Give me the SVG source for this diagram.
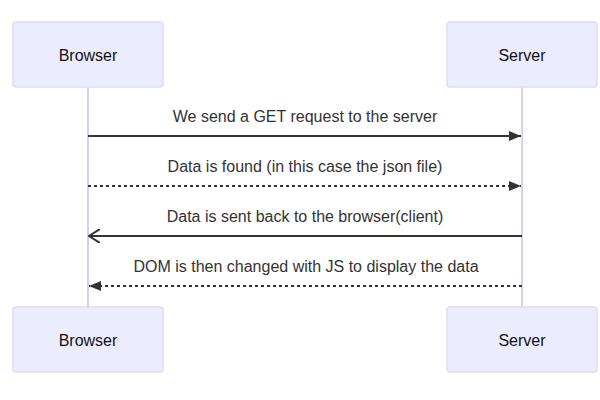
<svg xmlns="http://www.w3.org/2000/svg" width="600" height="400" viewBox="0 0 600 400">
<defs>
<style>
.actor{fill:#ECECFF;stroke:#E2D9F8;stroke-width:1.5}
.lbl{font-family:"Liberation Sans",Arial,sans-serif;font-size:16px;fill:#111;text-anchor:middle}
.life{stroke:#D8CFF5;stroke-width:2}
.msg{stroke:#333;stroke-width:2;fill:none}
.dot{stroke-dasharray:3,3}
.mt{font-family:"Liberation Sans",Arial,sans-serif;font-size:16px;fill:#333;text-anchor:middle}
</style>
<marker id="arrow" viewBox="0 0 12 10" refX="12" refY="5" markerWidth="12" markerHeight="10" markerUnits="userSpaceOnUse" orient="auto">
<path d="M0,0 L12,5 L0,10 z" fill="#333"/>
</marker>
<marker id="open" viewBox="0 0 12 14" refX="11" refY="7" markerWidth="12" markerHeight="14" markerUnits="userSpaceOnUse" orient="auto">
<path d="M0,0 L11,7 L0,14" fill="none" stroke="#333" stroke-width="2"/>
</marker>
</defs>
<rect width="600" height="400" fill="#fff"/>
<g id="lifelines">
<line class="life" x1="88" y1="87" x2="88" y2="307"/>
<line class="life" x1="522" y1="87" x2="522" y2="307"/>
</g>
<g id="browser-top">
<rect class="actor" x="13" y="22" width="150" height="65" rx="3"/>
<text class="lbl" x="88" y="61">Browser</text>
</g>
<g id="server-top">
<rect class="actor" x="447" y="22" width="150" height="65" rx="3"/>
<text class="lbl" x="522" y="61">Server</text>
</g>
<g id="browser-bottom">
<rect class="actor" x="13" y="307" width="150" height="65" rx="3"/>
<text class="lbl" x="88" y="346">Browser</text>
</g>
<g id="server-bottom">
<rect class="actor" x="447" y="307" width="150" height="65" rx="3"/>
<text class="lbl" x="522" y="346">Server</text>
</g>
<g id="connectors">
<line class="msg" x1="88" y1="136" x2="521" y2="136" marker-end="url(#arrow)"/>
<line class="msg dot" x1="88" y1="186" x2="521" y2="186" marker-end="url(#arrow)"/>
<line class="msg" x1="522" y1="236" x2="89" y2="236" marker-end="url(#open)"/>
<line class="msg dot" x1="522" y1="286" x2="89" y2="286" marker-end="url(#arrow)"/>
<text class="mt" x="305" y="122">We send a GET request to the server</text>
<text class="mt" x="305" y="172">Data is found (in this case the json file)</text>
<text class="mt" x="305" y="222">Data is sent back to the browser(client)</text>
<text class="mt" x="306" y="272">DOM is then changed with JS to display the data</text>
</g>
</svg>
